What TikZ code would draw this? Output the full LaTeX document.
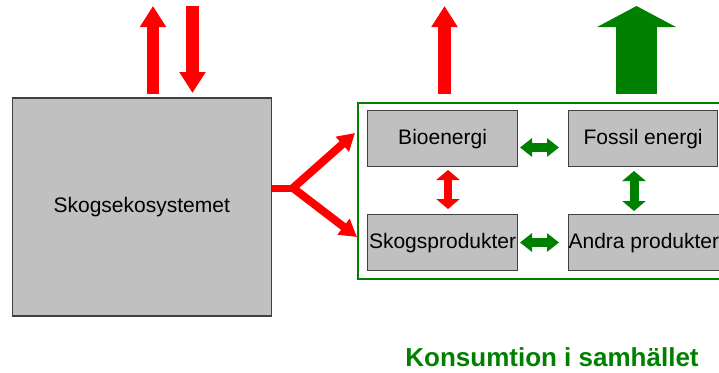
\documentclass[tikz,border=0pt]{standalone}
\usepackage{fontspec}
\setmainfont{Liberation Sans}
\usetikzlibrary{arrows.meta}
\definecolor{boxgray}{HTML}{C0C0C0}
\definecolor{edgegray}{HTML}{404040}
\definecolor{dgreen}{HTML}{008000}
\definecolor{fred}{HTML}{FF0000}
\tikzset{
  graybox/.style={draw=edgegray, line width=1.2pt, fill=boxgray, inner sep=0pt, font=\fontsize{21}{25}\selectfont},
  bigup/.style={line width=12.5pt, -{Triangle[length=21pt,width=25pt]}},
  dbl/.style={line width=8.5pt, {Triangle[length=12pt,width=18pt]}-{Triangle[length=12pt,width=18pt]}},
  dblv/.style={line width=8pt, {Triangle[length=10pt,width=23pt]}-{Triangle[length=10pt,width=23pt]}},
  split/.style={fred, line width=8pt, -{Triangle[length=17pt,width=19pt]}},
}
\begin{document}
\begin{tikzpicture}[x=1pt,y=-1pt]
\clip (0,0) rectangle (719,372);
\useasboundingbox (0,0) rectangle (719,372);

% main box
\node[graybox, line width=1.5pt, minimum width=259pt, minimum height=218pt, anchor=north west] (eco) at (11.5,97) {Skogsekosystemet};

% green frame
\node[draw=dgreen, line width=2pt, minimum width=380pt, minimum height=176pt, anchor=north west, inner sep=0pt] (frame) at (357,102) {};

% inner boxes
\node[graybox, minimum width=150pt, minimum height=56pt, anchor=north west] (bio) at (367,110) {Bioenergi};
\node[graybox, minimum width=149pt, minimum height=56pt, anchor=north west] (fos) at (568,110) {Fossil energi};
\node[graybox, minimum width=150pt, minimum height=56pt, anchor=north west] (prod) at (367,214) {Skogsprodukter};
\node[graybox, minimum width=149pt, minimum height=56pt, anchor=north west] (andra) at (568,214) {Andra produkter};

% bottom label
\node[anchor=base, text=dgreen, font=\bfseries\fontsize{26}{30}\selectfont, inner sep=0pt] (kons) at (552,366) {Konsumtion i samhället};

% top arrows
\coordinate (a1b) at (153,94);
\coordinate (a1t) at (153,6);
\coordinate (a2t) at (192.5,6);
\coordinate (a2b) at (192.5,93);
\coordinate (a3b) at (444.5,94);
\coordinate (a3t) at (444.5,6);
\coordinate (a4b) at (636.5,94);
\coordinate (a4t) at (636.5,6);
\draw[bigup, fred] (a1b) -- (a1t);
\draw[bigup, fred] (a2t) -- (a2b);
\draw[bigup, fred] (a3b) -- (a3t);
\draw[line width=41pt, dgreen, -{Triangle[length=21pt,width=78pt]}] (a4b) -- (a4t);

% split arrow
\coordinate (junc) at (293,188);
\coordinate (tipup) at (355,133);
\coordinate (tipdn) at (357,237);
\draw[fred, line width=7pt] (eco.east |- junc) -- (junc);
\draw[split] (junc) -- (tipup);
\draw[split] (junc) -- (tipdn);

% double arrows
\coordinate (h1l) at (520,147.5);
\coordinate (h1r) at (559,147.5);
\coordinate (h2l) at (520,242.5);
\coordinate (h2r) at (559,242.5);
\draw[dbl, dgreen] (h1l) -- (h1r);
\draw[dbl, dgreen] (h2l) -- (h2r);
\draw[dblv, fred] (448,170) -- (448,209);
\draw[dblv, dgreen, line width=9pt] (634,171) -- (634,211);
\end{tikzpicture}
\end{document}
